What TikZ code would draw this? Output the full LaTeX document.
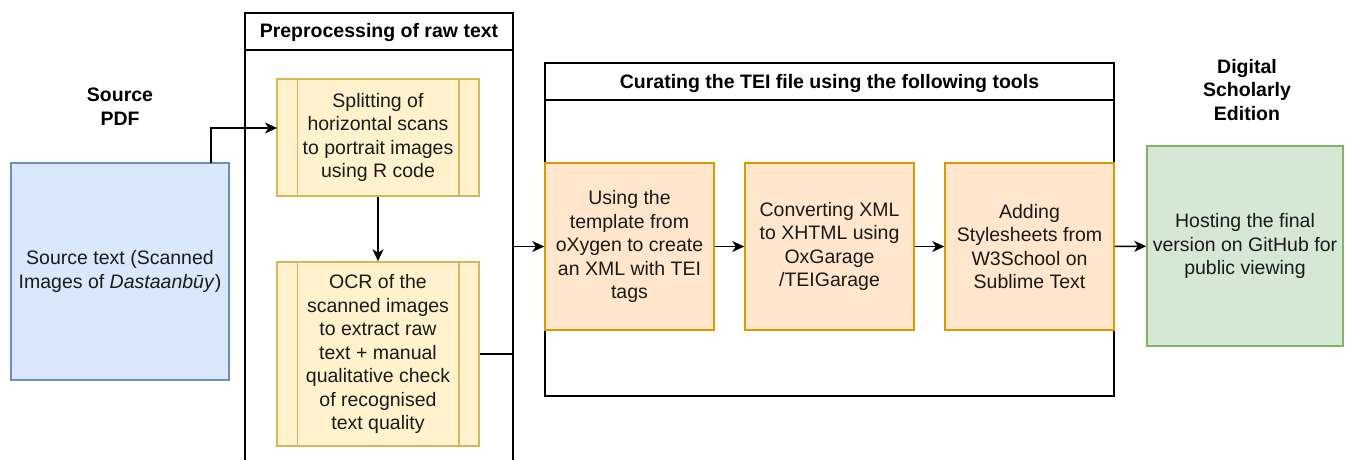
\documentclass[tikz,border=0pt]{standalone}
\usepackage{fontspec}
\setmainfont{Liberation Sans}
\usetikzlibrary{arrows.meta,calc}

\definecolor{bluefill}{HTML}{DAE8FC}
\definecolor{bluedraw}{HTML}{6C8EBF}
\definecolor{yelfill}{HTML}{FFF2CC}
\definecolor{yeldraw}{HTML}{D6B656}
\definecolor{orfill}{HTML}{FFE6CC}
\definecolor{ordraw}{HTML}{D79B00}
\definecolor{grfill}{HTML}{D5E8D4}
\definecolor{grdraw}{HTML}{82B366}
\definecolor{ink}{HTML}{1A1A1A}

\tikzset{
  txt/.style={font=\fontsize{19.5}{23.5}\selectfont, text=ink, align=center, inner sep=0pt},
  title/.style={txt, font=\fontsize{19.5}{23.5}\selectfont\bfseries, text=black},
  box/.style={txt, draw, line width=1.5pt, minimum width=#1},
  srcbox/.style={box=218pt, minimum height=217pt, fill=bluefill, draw=bluedraw},
  procbox/.style={box=202pt, fill=yelfill, draw=yeldraw},
  toolbox/.style={box=#1, minimum height=167pt, fill=orfill, draw=ordraw},
  webbox/.style={box=196pt, minimum height=200pt, fill=grfill, draw=grdraw},
  container/.style={draw=black, line width=1.5pt, inner sep=0pt},
  arr/.style={draw=black, line width=1.5pt, -{Stealth[length=12pt,width=11pt,inset=3.5pt]}},
  link/.style={draw=black, line width=1.5pt}
}

\begin{document}
\begin{tikzpicture}[x=1pt,y=-1pt]
\useasboundingbox[fill=white] (0,0) rectangle (1345,460);

% Source
\node[title] (srctitle) at (120,106.5) {Source\\PDF};
\node[srcbox] (src) at (120,271.5) {Source text (Scanned\\Images of \textit{Dastaanbūy})};

% Preprocessing container
\node[container, minimum width=268pt, minimum height=462pt] (pre) at (379,244) {};
\draw[link] ($(pre.north west)+(0,38)$) -- ($(pre.north east)+(0,38)$);
\node[title] (pretitle) at (379,33) {Preprocessing of raw text};

\node[procbox, minimum height=117pt] (split) at (378,137.5) {Splitting of\\horizontal scans\\to portrait images\\using R code};
\node[procbox, minimum height=184pt] (ocr) at (378,354) {OCR of the\\scanned images\\to extract raw\\text + manual\\qualitative check\\of recognised\\text quality};
\foreach \n in {split,ocr}{
  \draw[yeldraw, line width=1.5pt] ($(\n.north west)+(21,0)$) -- ($(\n.south west)+(21,0)$);
  \draw[yeldraw, line width=1.5pt] ($(\n.north east)+(-21,0)$) -- ($(\n.south east)+(-21,0)$);
}

% Curating container
\node[container, minimum width=569pt, minimum height=333pt] (cur) at (829.5,229.5) {};
\draw[link] ($(cur.north west)+(0,38)$) -- ($(cur.north east)+(0,38)$);
\node[title] (curtitle) at (829.5,84) {Curating the TEI file using the following tools};

\node[toolbox=169pt] (t1) at (629.5,246.5) {Using the\\template from\\oXygen to create\\an XML with TEI\\tags};
\node[toolbox=169pt] (t2) at (829.5,246.5) {Converting XML\\to XHTML using\\OxGarage\\/TEIGarage};
\node[toolbox=169pt] (t3) at (1029.5,246.5) {Adding\\Stylesheets from\\W3School on\\Sublime Text};

% Digital edition
\node[title] (dsetitle) at (1247,90) {Digital\\Scholarly\\Edition};
\node[webbox] (web) at (1245,246) {Hosting the final\\version on GitHub for\\public viewing};

% Connectors
\coordinate (srcout) at (211,163);
\coordinate (splitin) at (277,128);
\coordinate (prebend) at (513,246.5);
\draw[arr] (srcout) |- (splitin);
\draw[arr] (split) -- (ocr);
\draw[link] (ocr.east) -| (prebend);
\draw[arr] (prebend) -- (t1.west);
\draw[arr] (t1) -- (t2);
\draw[arr] (t2) -- (t3);
\draw[arr] (t3) -- (web);
\end{tikzpicture}
\end{document}
